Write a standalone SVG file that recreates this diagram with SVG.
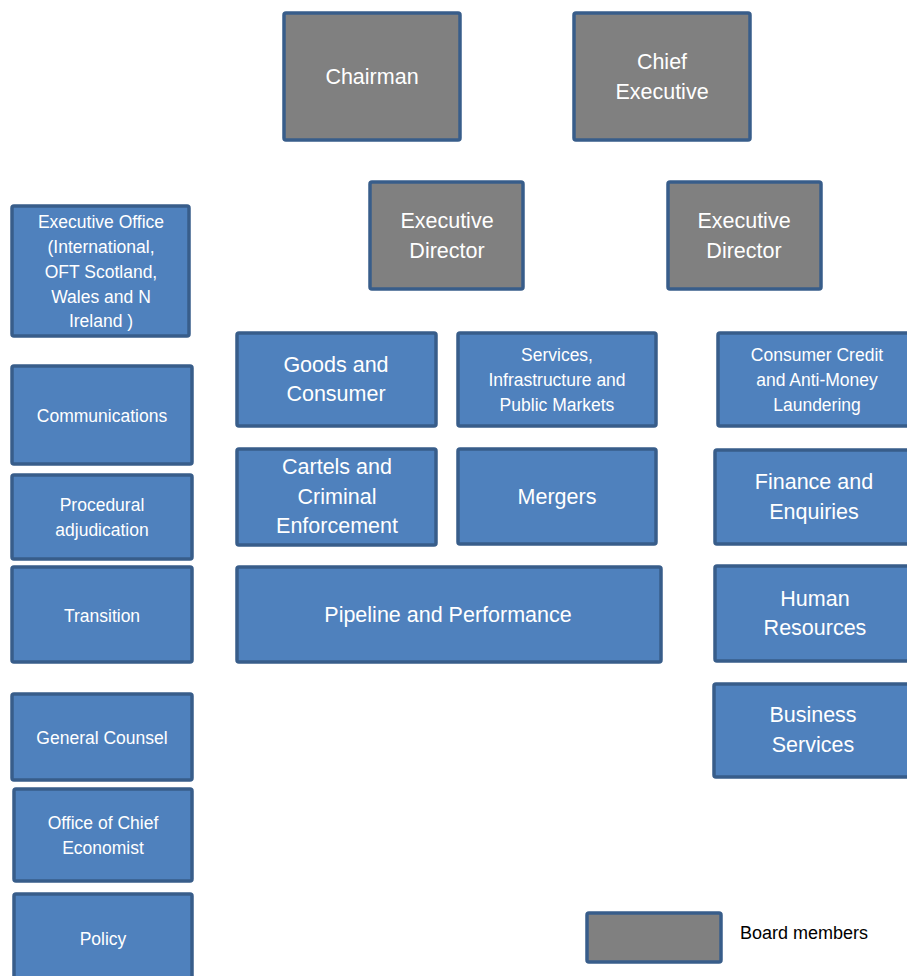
<svg xmlns="http://www.w3.org/2000/svg" width="907" height="976" viewBox="0 0 907 976">
<style>
.b{fill:#4F81BD;stroke:#385D8A;stroke-width:3.5}
.g{fill:#808080;stroke:#385D8A;stroke-width:3.5}
text{font-family:"Liberation Sans",Arial,sans-serif;fill:#fff;text-anchor:middle;dominant-baseline:central}
.L{font-size:21.5px}
.S{font-size:17.5px}
.k{fill:#000;text-anchor:start;font-size:18px}
</style>
<rect width="907" height="976" fill="#fff"/>
<g id="connectors"></g>
<g id="chairman"><rect class="g" x="284" y="13" width="176" height="127" rx="2"/><text class="L" x="372" y="77">Chairman</text></g>
<g id="chief-executive"><rect class="g" x="574" y="13" width="176" height="127" rx="2"/><text class="L" x="662" y="62">Chief</text><text class="L" x="662" y="92">Executive</text></g>
<g id="exec-director-1"><rect class="g" x="370" y="182" width="153" height="107" rx="2"/><text class="L" x="447" y="221">Executive</text><text class="L" x="447" y="251">Director</text></g>
<g id="exec-director-2"><rect class="g" x="668" y="182" width="153" height="107" rx="2"/><text class="L" x="744" y="221">Executive</text><text class="L" x="744" y="251">Director</text></g>
<g id="executive-office"><rect class="b" x="12" y="206" width="177" height="130" rx="2"/><text class="S" x="101" y="222">Executive Office</text><text class="S" x="101" y="247">(International,</text><text class="S" x="101" y="272">OFT Scotland,</text><text class="S" x="101" y="297">Wales and N</text><text class="S" x="101" y="321">Ireland )</text></g>
<g id="communications"><rect class="b" x="12" y="366" width="180" height="98" rx="2"/><text class="S" x="102" y="416">Communications</text></g>
<g id="procedural"><rect class="b" x="12" y="475" width="180" height="84" rx="2"/><text class="S" x="102" y="505">Procedural</text><text class="S" x="102" y="530">adjudication</text></g>
<g id="transition"><rect class="b" x="12" y="567" width="180" height="95" rx="2"/><text class="S" x="102" y="616">Transition</text></g>
<g id="general-counsel"><rect class="b" x="12" y="694" width="180" height="86" rx="2"/><text class="S" x="102" y="738">General Counsel</text></g>
<g id="chief-economist"><rect class="b" x="14" y="789" width="178" height="92" rx="2"/><text class="S" x="103" y="823">Office of Chief</text><text class="S" x="103" y="848">Economist</text></g>
<g id="policy"><rect class="b" x="14" y="894" width="178" height="90" rx="2"/><text class="S" x="103" y="939">Policy</text></g>
<g id="goods-consumer"><rect class="b" x="237" y="333" width="199" height="93" rx="2"/><text class="L" x="336" y="365">Goods and</text><text class="L" x="336" y="394">Consumer</text></g>
<g id="services"><rect class="b" x="458" y="333" width="198" height="93" rx="2"/><text class="S" x="557" y="355">Services,</text><text class="S" x="557" y="380">Infrastructure and</text><text class="S" x="557" y="405">Public Markets</text></g>
<g id="cartels"><rect class="b" x="237" y="449" width="199" height="96" rx="2"/><text class="L" x="337" y="467">Cartels and</text><text class="L" x="337" y="497">Criminal</text><text class="L" x="337" y="526">Enforcement</text></g>
<g id="mergers"><rect class="b" x="458" y="449" width="198" height="95" rx="2"/><text class="L" x="557" y="497">Mergers</text></g>
<g id="pipeline"><rect class="b" x="237" y="567" width="424" height="95" rx="2"/><text class="L" x="448" y="615">Pipeline and Performance</text></g>
<g id="consumer-credit"><rect class="b" x="718" y="333" width="195" height="93" rx="2"/><text class="S" x="817" y="355">Consumer Credit</text><text class="S" x="817" y="380">and Anti-Money</text><text class="S" x="817" y="405">Laundering</text></g>
<g id="finance"><rect class="b" x="715" y="450" width="198" height="94" rx="2"/><text class="L" x="814" y="482">Finance and</text><text class="L" x="814" y="512">Enquiries</text></g>
<g id="human-resources"><rect class="b" x="715" y="566" width="198" height="95" rx="2"/><text class="L" x="815" y="599">Human</text><text class="L" x="815" y="628">Resources</text></g>
<g id="business-services"><rect class="b" x="714" y="684" width="199" height="93" rx="2"/><text class="L" x="813" y="715">Business</text><text class="L" x="813" y="745">Services</text></g>
<g id="legend"><rect class="g" x="587" y="913" width="134" height="49" rx="2"/><text class="k" x="740" y="933">Board members</text></g>
</svg>
